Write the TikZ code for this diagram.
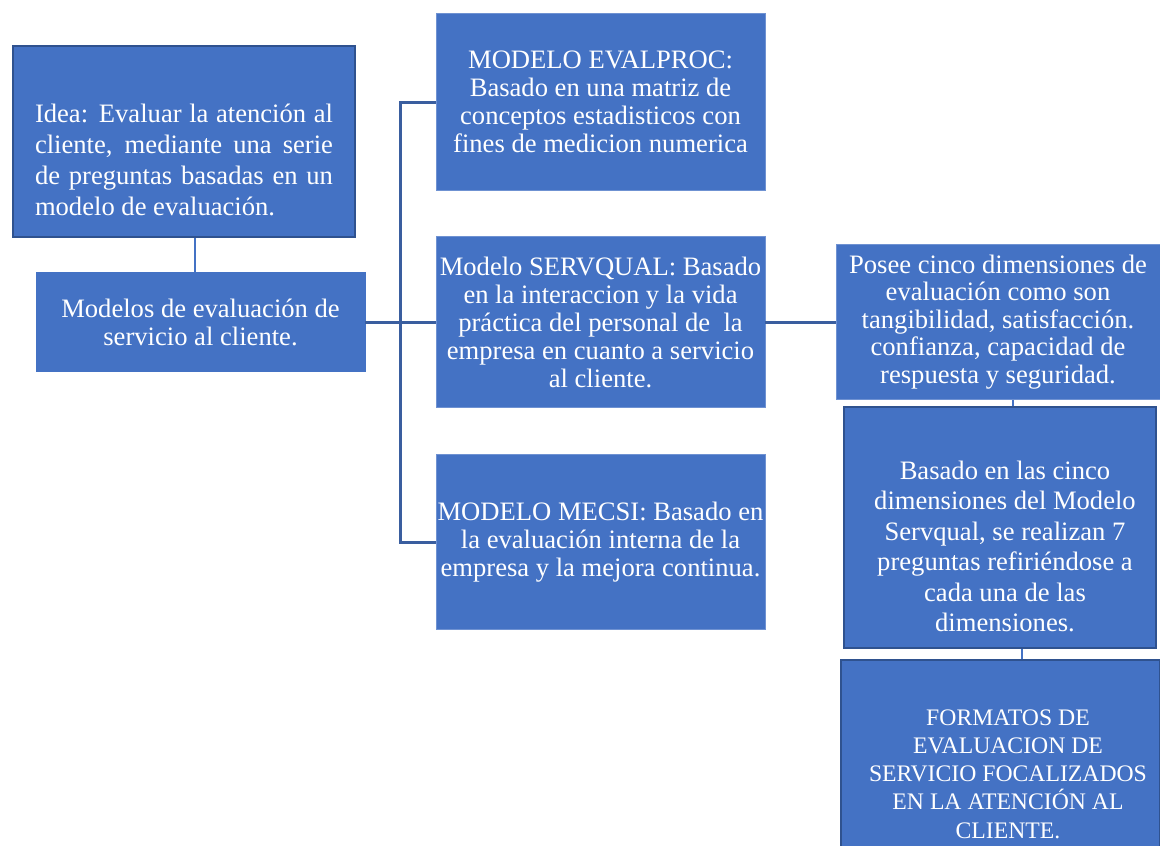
\documentclass[tikz,border=0pt]{standalone}
\usepackage{fontspec}
\setmainfont{Liberation Serif}
\usetikzlibrary{calc}
\definecolor{boxblue}{HTML}{4472C4}
\definecolor{darkblue}{HTML}{2F528F}
\definecolor{edgeblue}{HTML}{6F92D2}
\definecolor{treeblue}{HTML}{3A5E9F}
\begin{document}
\begin{tikzpicture}[x=1pt,y=-1pt,
  box/.style={fill=boxblue, draw=edgeblue, line width=0.8pt, inner sep=0pt, text=white, align=center, font=\fontsize{26.6}{28}\selectfont},
  darkbox/.style={box, draw=darkblue, line width=2.8pt},
  txt/.style={inner sep=0pt, text=white},
  tree/.style={draw=treeblue, line width=3pt},
  thin/.style={draw=boxblue, line width=1.5pt}]
\useasboundingbox (0,0) rectangle (1160,846);
\clip (0,0) rectangle (1160,846);
% left column
\node[darkbox, minimum width=342, minimum height=191] (idea) at (184,141.5) {};
\node[txt, text width=298, align=justify, font=\fontsize{26.6}{31}\selectfont] at ($(idea.center)+(0,18)$)
  {Idea: Evaluar la atención al\linebreak cliente, mediante una serie\linebreak de preguntas basadas en un\linebreak modelo de evaluación.};
\node[box, draw=boxblue, minimum width=329, minimum height=99] (modelos) at (200.5,322)
  {Modelos de evaluación de\\servicio al cliente.};
% middle column
\node[box, minimum width=329, minimum height=177] (evalproc) at (600.5,102)
  {MODELO EVALPROC:\\Basado en una matriz de\\conceptos estadisticos con\\fines de medicion numerica};
\node[box, minimum width=329, minimum height=171] (servqual) at (600.5,322)
  {Modelo SERVQUAL: Basado\\en la interaccion y la vida\\práctica del personal de\ \ la\\empresa en cuanto a servicio\\al cliente.};
\node[box, minimum width=329, minimum height=175] (mecsi) at (600.5,542)
  {MODELO MECSI: Basado en\\la evaluación interna de la\\empresa y la mejora continua.};
% right column
\node[box, font=\fontsize{26.6}{27.5}\selectfont, minimum width=324, minimum height=155] (posee) at (998,322)
  {Posee cinco dimensiones de\\evaluación como son\\tangibilidad, satisfacción.\\confianza, capacidad de\\respuesta y seguridad.};
\node[darkbox, minimum width=312, minimum height=241] (basado) at (1000,527.5) {};
\node[txt, align=center, font=\fontsize{26.6}{30.5}\selectfont] at ($(basado.center)+(5,19)$)
  {Basado en las cinco\\dimensiones del Modelo\\Servqual, se realizan 7\\preguntas refiriéndose a\\cada una de las\\dimensiones.};
\node[darkbox, minimum width=319, minimum height=210] (formatos) at (1000.5,765) {};
\begin{scope}
\clip (841,660) rectangle (1160,839);
\node[txt, align=center, font=\fontsize{23.7}{28.2}\selectfont] at (1008,774)
  {FORMATOS DE\\EVALUACION DE\\SERVICIO FOCALIZADOS\\EN LA ATENCIÓN AL\\CLIENTE.};
\end{scope}
% connectors
\draw[thin] ([xshift=11pt]idea.south) -- ([xshift=11pt]idea.south |- modelos.north);
\coordinate (bus) at (400,322);
\draw[tree] (evalproc.west) -| (bus) |- (mecsi.west);
\draw[tree] (modelos.east) -- (servqual.west);
\draw[tree] (servqual.east) -- (posee.west);
\draw[thin] ([xshift=15pt]posee.south) -- ([xshift=15pt]posee.south |- basado.north);
\draw[thin] ([xshift=22pt]basado.south) -- ([xshift=22pt]basado.south |- formatos.north);
\end{tikzpicture}
\end{document}
